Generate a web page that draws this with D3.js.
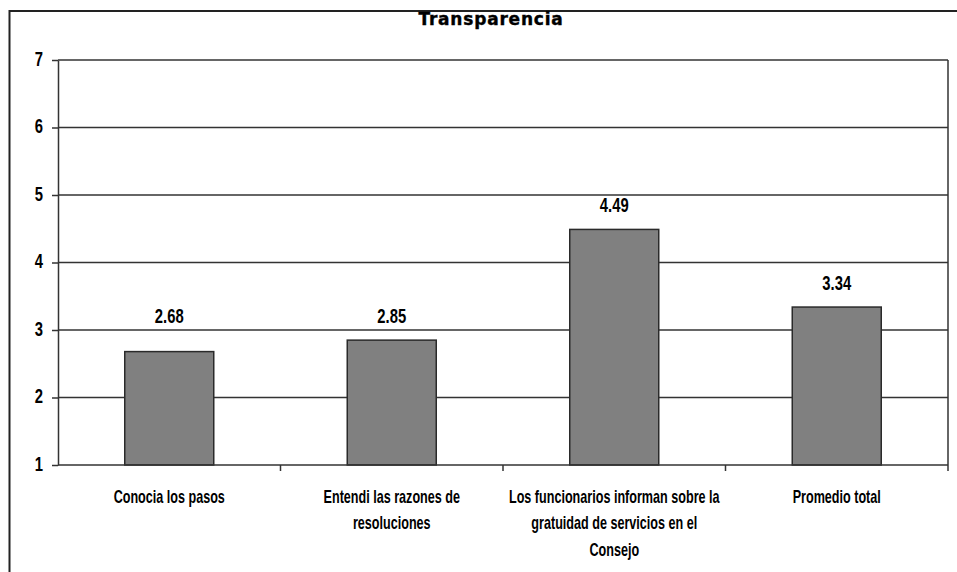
<!DOCTYPE html>
<html>
<head>
<meta charset="utf-8">
<script src="https://cdn.jsdelivr.net/npm/d3@7/dist/d3.min.js"></script>
<style>
  html, body { margin: 0; padding: 0; background: #fff; }
  svg { display: block; }
  text { font-family: "Liberation Sans", Arial, sans-serif; font-weight: bold; fill: #000; }
</style>
</head>
<body>
<script>
// Chart content
const title = "Transparencia";
const categories = [
  "Conocia los pasos",
  "Entendi las razones de\nresoluciones",
  "Los funcionarios informan sobre la\ngratuidad de servicios en el\nConsejo",
  "Promedio total"
];
const values = [2.68, 2.85, 4.49, 3.34];
const yTicks = [1, 2, 3, 4, 5, 6, 7];

const W = 957, H = 572;
const plot = { left: 58, right: 948, top: 60, bottom: 465 };
const narrow = 0.72;   // horizontal squeeze for the condensed lettering

const svg = d3.select("body").append("svg")
  .attr("width", W).attr("height", H);

// outer frame (runs off the right and bottom edges)
svg.append("path")
  .attr("d", `M9.5,${H + 2} V11 H${W + 2}`)
  .attr("fill", "none").attr("stroke", "#222").attr("stroke-width", 2);

svg.append("text")
  .attr("x", 491).attr("y", 25)
  .attr("text-anchor", "middle")
  .style("font-family", "'DejaVu Sans', sans-serif")
  .style("font-size", "17px")
  .style("letter-spacing", "0.8px")
  .style("stroke", "#000").style("stroke-width", "0.4px")
  .text(title);

const y = d3.scaleLinear().domain([1, 7]).range([plot.bottom, plot.top]);
const x = d3.scaleBand().domain(categories)
  .range([plot.left, plot.right])
  .paddingInner(0.6).paddingOuter(0.3);

// horizontal gridlines
svg.append("g").selectAll("line").data(yTicks.filter(t => t > 1)).join("line")
  .attr("x1", plot.left).attr("x2", plot.right)
  .attr("y1", d => y(d)).attr("y2", d => y(d))
  .attr("stroke", "#333").attr("stroke-width", 1.5);

// right border of the plot area
svg.append("line")
  .attr("x1", plot.right).attr("x2", plot.right)
  .attr("y1", plot.top).attr("y2", plot.bottom)
  .attr("stroke", "#333").attr("stroke-width", 1.5);

// bars
svg.append("g").selectAll("rect").data(values).join("rect")
  .attr("x", (d, i) => x(categories[i]))
  .attr("width", x.bandwidth())
  .attr("y", d => y(d))
  .attr("height", d => y(1) - y(d))
  .attr("fill", "#808080")
  .attr("stroke", "#2a2a2a").attr("stroke-width", 1.5);

// value labels
const labelNudge = [-12, 0, 0, 0];
svg.append("g").selectAll("text").data(values).join("text")
  .attr("transform", (d, i) =>
    `translate(${x(categories[i]) + x.bandwidth() / 2},${y(d) - 17 + labelNudge[i]}) scale(0.76,1)`)
  .attr("text-anchor", "middle")
  .style("font-size", "19.5px")
  .text(d => d.toFixed(2));

// y axis
const yAxis = svg.append("g")
  .attr("transform", `translate(${plot.left},0)`)
  .call(d3.axisLeft(y).tickValues(yTicks).tickSize(6).tickSizeOuter(0).tickFormat(d3.format("d")));
yAxis.select(".domain").attr("stroke", "#333").attr("stroke-width", 1.5);
yAxis.selectAll(".tick line").attr("stroke", "#333").attr("stroke-width", 1.5);
yAxis.selectAll(".tick text")
  .attr("x", 0).attr("dy", "0.27em")
  .attr("transform", "translate(-15,0) scale(0.76,1)")
  .style("font-size", "19.5px")
  .style("font-family", null);

// x axis with tick marks between categories
const step = x.step();
const xAxis = svg.append("g").attr("transform", `translate(0,${plot.bottom})`);
xAxis.append("line")
  .attr("x1", plot.left).attr("x2", plot.right)
  .attr("stroke", "#333").attr("stroke-width", 1.5);
const bounds = d3.range(1, categories.length + 1).map(i => plot.left + i * step);
xAxis.selectAll(".xt").data(bounds).join("line")
  .attr("class", "xt")
  .attr("x1", d => d).attr("x2", d => d)
  .attr("y1", 0).attr("y2", 6)
  .attr("stroke", "#333").attr("stroke-width", 1.5);

// category labels, one text line per segment
categories.forEach(c => {
  const cx = x(c) + x.bandwidth() / 2;
  const t = xAxis.append("text")
    .attr("transform", `translate(${cx},0) scale(${narrow},1)`)
    .attr("text-anchor", "middle")
    .style("font-size", "17.5px");
  c.split("\n").forEach((l, k) => {
    t.append("tspan").attr("x", 0).attr("y", 38 + k * 26.3).text(l);
  });
});
</script>
</body>
</html>
